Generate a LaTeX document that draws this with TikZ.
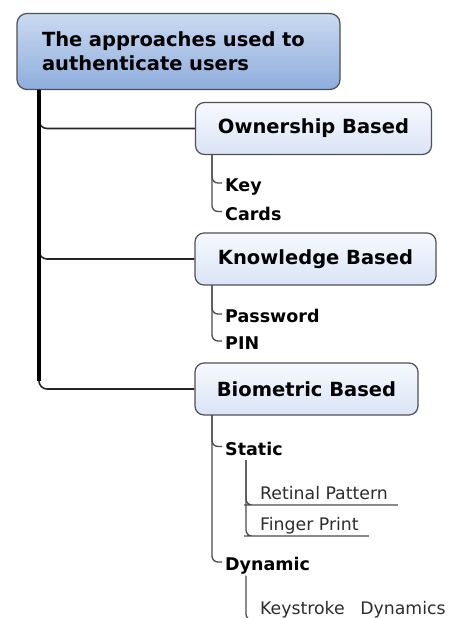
\documentclass[tikz,border=0pt]{standalone}
\usepackage{fontspec}
\setmainfont{DejaVu Sans}
\usetikzlibrary{positioning}
\definecolor{RootTop}{RGB}{202,218,241}
\definecolor{RootBottom}{RGB}{142,173,220}
\definecolor{CatTop}{RGB}{246,249,254}
\definecolor{CatBottom}{RGB}{218,228,246}
\definecolor{BoxLine}{RGB}{80,80,80}
\definecolor{LeafText}{RGB}{45,45,45}

\tikzset{
	rootbox/.style={draw=BoxLine, line width=1.2pt, rounded corners=10pt,
		top color=RootTop, bottom color=RootBottom,
		minimum width=323pt, minimum height=76pt, text width=273pt,
		inner xsep=25pt, align=left,
		font=\fontsize{19.5}{24}\selectfont\bfseries},
	catbox/.style={draw=BoxLine, line width=1.2pt, rounded corners=9pt,
		top color=CatTop, bottom color=CatBottom, minimum height=52pt,
		font=\fontsize{19.5}{24}\selectfont\bfseries},
	item/.style={anchor=west, inner xsep=3pt, inner ysep=0pt,
		text height=17pt, text depth=0pt,
		font=\fontsize{17.5}{20}\selectfont\bfseries},
	leaf/.style={anchor=south west, inner xsep=10pt, inner ysep=5pt,
		text height=13pt, text depth=0pt, text=LeafText,
		font=\fontsize{17.3}{20}\selectfont},
	trunkline/.style={line width=3.6pt, black},
	branchline/.style={line width=1.6pt, black!85, rounded corners=8pt},
	subline/.style={line width=1.3pt, black!70, rounded corners=6pt},
}

\begin{document}
\begin{tikzpicture}[x=1pt, y=-1pt]
	\useasboundingbox (0,0) rectangle (456,618);

	% top level
	\node[rootbox] (root) at (178.5,51.5) {The approaches used to\\authenticate users};

	\node[catbox, minimum width=236pt] (own) at (313.5,128.5) {Ownership Based};
	\node[catbox, minimum width=241pt] (know) at (315.5,259) {Knowledge Based};
	\node[catbox, minimum width=223pt] (bio) at (306.5,389) {Biometric Based};

	\coordinate (trunk) at (39,89.5);
	\draw[branchline] (trunk) |- (own.west);
	\draw[branchline] (trunk) |- (know.west);
	\draw[branchline] (trunk) |- (bio.west);
	\draw[trunkline] (trunk) -- (39,381);

	% ownership
	\node[item] (key) at (222,183) {Key};
	\node[item] (cards) at (222,211.5) {Cards};
	\coordinate (ownfoot) at (212,154.5);
	\draw[subline] (ownfoot) |- (key.west);
	\draw[subline] (ownfoot) |- (cards.west);

	% knowledge
	\node[item] (pwd) at (222,314) {Password};
	\node[item] (pin) at (222,341) {PIN};
	\coordinate (knowfoot) at (212,285);
	\draw[subline] (knowfoot) |- (pwd.west);
	\draw[subline] (knowfoot) |- (pin.west);

	% biometric
	\node[item] (static) at (222,446.5) {Static};
	\node[item] (dyn) at (222,562) {Dynamic};
	\coordinate (biofoot) at (212,415);
	\draw[subline] (biofoot) |- (static.west);
	\draw[subline] (biofoot) |- (dyn.west);

	\node[leaf] (retina) at (250,505) {Retinal Pattern};
	\node[leaf] (finger) at (250,536) {Finger Print};
	\coordinate (staticfoot) at (246,460);
	\draw[subline] (staticfoot) |- (retina.south west) -- (retina.south east);
	\draw[subline] (staticfoot) |- (finger.south west) -- (finger.south east);

	\node[leaf] (keys) at (250,620) {Keystroke\hspace{0.9em}Dynamics};
	\coordinate (dynfoot) at (246,575.5);
	\draw[subline] (dynfoot) |- (keys.south west) -- (keys.south east);
\end{tikzpicture}
\end{document}
